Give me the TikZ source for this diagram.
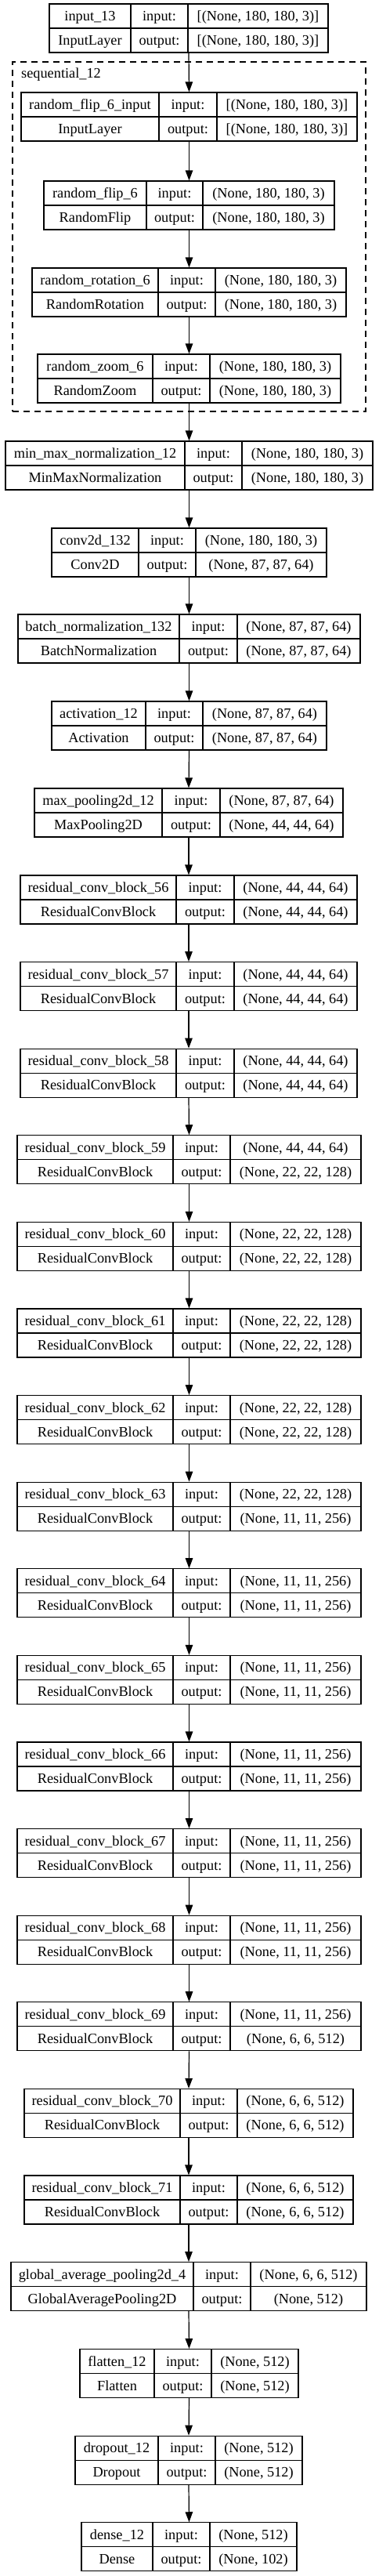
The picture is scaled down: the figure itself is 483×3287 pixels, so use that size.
\documentclass[tikz,border=0pt]{standalone}
\usepackage{fontspec}
\setmainfont{Liberation Serif}
\usetikzlibrary{arrows.meta,fit}
\tikzset{
  lbox/.style={draw, line width=1.2pt, inner sep=0pt},
  sepline/.style={line width=1.2pt},
  cell/.style={anchor=base, inner sep=0pt, font=\fontsize{18.3}{22}\selectfont},
  arr/.style={-{Triangle[length=13pt,width=9.5pt]}, line width=1.2pt},
  cluster/.style={draw, dash pattern=on 8pt off 6pt, line width=1.2pt, inner sep=0pt}
}
\newcommand\setcols[4]{\def\xa{#1}\def\xb{#2}\def\xc{#3}\def\xd{#4}}
\newcommand\layerbox[6]{%
  \node[lbox, fit={(\xa,#2) (\xd,{#2+62})}] (#1) {};
  \draw[sepline] (\xb,#2) -- (\xb,{#2+62});
  \draw[sepline] (\xc,#2) -- (\xc,{#2+62});
  \draw[sepline] (\xa,{#2+31}) -- (\xd,{#2+31});
  \node[cell] (#1-n) at ({(\xa+\xb)/2},{#2+21.5}) {#3};
  \node[cell] (#1-c) at ({(\xa+\xb)/2},{#2+52.5}) {#4};
  \node[cell] (#1-il) at ({(\xb+\xc)/2},{#2+21.5}) {input:};
  \node[cell] (#1-ol) at ({(\xb+\xc)/2},{#2+52.5}) {output:};
  \node[cell] (#1-i) at ({(\xc+\xd)/2},{#2+21.5}) {#5};
  \node[cell] (#1-o) at ({(\xc+\xd)/2},{#2+52.5}) {#6};
}
\begin{document}
\begin{tikzpicture}[x=1pt,y=-1pt]
\fill[white] (0,0) rectangle (483,3287);
\useasboundingbox (0,0) rectangle (483,3287);

\node[cluster, fit={(16,79) (467,525)}] (seq) {};
\node[cell, anchor=base west] (seqlbl) at (27,99.5) {sequential\_12};

\def\sA{(None, 180, 180, 3)}
\def\sB{(None, 87, 87, 64)}
\def\sC{(None, 44, 44, 64)}
\def\sD{(None, 22, 22, 128)}
\def\sE{(None, 11, 11, 256)}
\def\sF{(None, 6, 6, 512)}
\def\sG{(None, 512)}

\setcols{63}{167}{240}{419}\layerbox{n1}{5}{input\_13}{InputLayer}{[\sA]}{[\sA]}
\setcols{27}{203}{277}{456}\layerbox{n2}{118}{random\_flip\_6\_input}{InputLayer}{[\sA]}{[\sA]}
\setcols{56}{187}{259}{427}\layerbox{n3}{231}{random\_flip\_6}{RandomFlip}{\sA}{\sA}
\setcols{41}{202}{275}{442}\layerbox{n4}{342}{random\_rotation\_6}{RandomRotation}{\sA}{\sA}
\setcols{48}{195}{268}{435}\layerbox{n5}{452}{random\_zoom\_6}{RandomZoom}{\sA}{\sA}
\setcols{7}{236}{309}{476}\layerbox{n6}{563}{min\_max\_normalization\_12}{MinMaxNormalization}{\sA}{\sA}
\setcols{66}{177}{250}{417}\layerbox{n7}{674}{conv2d\_132}{Conv2D}{\sA}{\sB}
\setcols{23}{229}{303}{460}\layerbox{n8}{784}{batch\_normalization\_132}{BatchNormalization}{\sB}{\sB}
\setcols{66}{186}{259}{417}\layerbox{n9}{895}{activation\_12}{Activation}{\sB}{\sB}
\setcols{44}{207}{281}{438}\layerbox{n10}{1006}{max\_pooling2d\_12}{MaxPooling2D}{\sB}{\sC}
\setcols{26}{225}{299}{456}
\layerbox{n11}{1117}{residual\_conv\_block\_56}{ResidualConvBlock}{\sC}{\sC}
\layerbox{n12}{1227.6}{residual\_conv\_block\_57}{ResidualConvBlock}{\sC}{\sC}
\layerbox{n13}{1338.2}{residual\_conv\_block\_58}{ResidualConvBlock}{\sC}{\sC}
\setcols{22}{221}{294}{461}
\layerbox{n14}{1448.8}{residual\_conv\_block\_59}{ResidualConvBlock}{\sC}{\sD}
\layerbox{n15}{1559.4}{residual\_conv\_block\_60}{ResidualConvBlock}{\sD}{\sD}
\layerbox{n16}{1670}{residual\_conv\_block\_61}{ResidualConvBlock}{\sD}{\sD}
\layerbox{n17}{1780.6}{residual\_conv\_block\_62}{ResidualConvBlock}{\sD}{\sD}
\layerbox{n18}{1891.2}{residual\_conv\_block\_63}{ResidualConvBlock}{\sD}{\sE}
\layerbox{n19}{2001.8}{residual\_conv\_block\_64}{ResidualConvBlock}{\sE}{\sE}
\layerbox{n20}{2112.4}{residual\_conv\_block\_65}{ResidualConvBlock}{\sE}{\sE}
\layerbox{n21}{2223}{residual\_conv\_block\_66}{ResidualConvBlock}{\sE}{\sE}
\layerbox{n22}{2333.6}{residual\_conv\_block\_67}{ResidualConvBlock}{\sE}{\sE}
\layerbox{n23}{2444.2}{residual\_conv\_block\_68}{ResidualConvBlock}{\sE}{\sE}
\layerbox{n24}{2554.8}{residual\_conv\_block\_69}{ResidualConvBlock}{\sE}{\sF}
\setcols{31}{230}{303}{451}
\layerbox{n25}{2665.4}{residual\_conv\_block\_70}{ResidualConvBlock}{\sF}{\sF}
\layerbox{n26}{2776}{residual\_conv\_block\_71}{ResidualConvBlock}{\sF}{\sF}
\setcols{14}{247}{320}{468}\layerbox{n27}{2886.6}{global\_average\_pooling2d\_4}{GlobalAveragePooling2D}{\sF}{\sG}
\setcols{102}{197}{270}{381}\layerbox{n28}{2997.5}{flatten\_12}{Flatten}{\sG}{\sG}
\setcols{96}{202}{275}{386}\layerbox{n29}{3108.2}{dropout\_12}{Dropout}{\sG}{\sG}
\setcols{104}{195}{268}{379}\layerbox{n30}{3218.8}{dense\_12}{Dense}{\sG}{(None, 102)}

\foreach \a [evaluate=\a as \b using int(\a+1)] in {1,...,29}{
  \draw[arr] (n\a.south) -- (n\b.north);
}
\end{tikzpicture}
\end{document}
